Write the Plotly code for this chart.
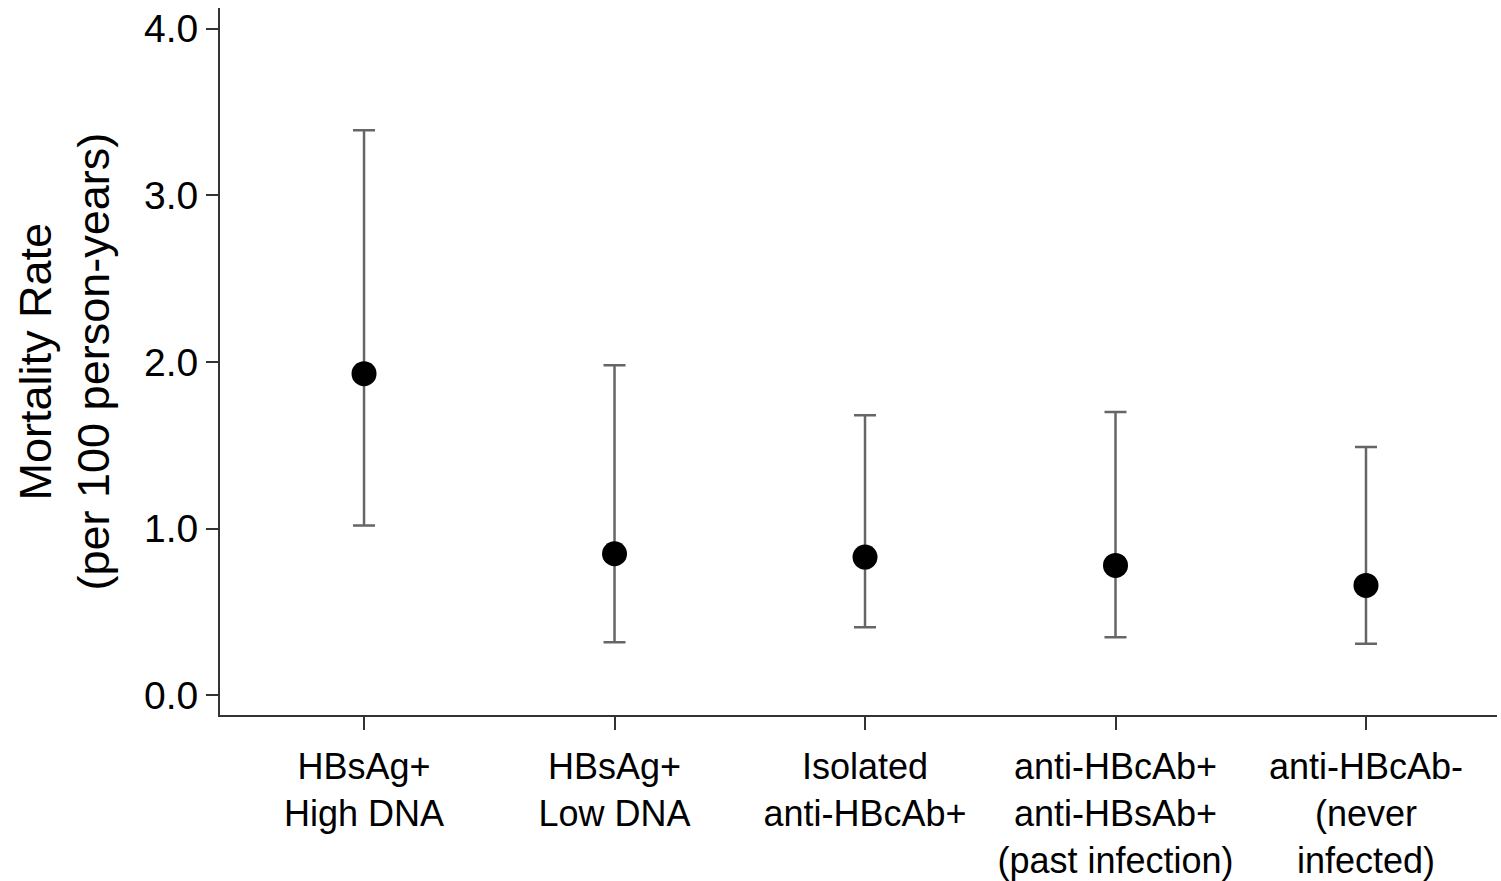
import plotly.graph_objects as go

categories = ["HBsAg+<br>High DNA", "HBsAg+<br>Low DNA", "Isolated<br>anti-HBcAb+",
              "anti-HBcAb+<br>anti-HBsAb+<br>(past infection)", "anti-HBcAb-<br>(never<br>infected)"]
rate = [1.93, 0.85, 0.83, 0.78, 0.66]
upper = [3.39, 1.98, 1.68, 1.70, 1.49]
lower = [1.02, 0.32, 0.41, 0.35, 0.31]
tick_vals = [0, 1, 2, 3, 4]
tick_text = ["0.0", "1.0", "2.0", "3.0", "4.0"]

xpos = list(range(len(categories)))
err_plus = [u - r for u, r in zip(upper, rate)]
err_minus = [r - l for r, l in zip(rate, lower)]

fig = go.Figure()
fig.add_trace(go.Scatter(
    x=xpos, y=rate, mode="markers",
    marker=dict(color="black", size=25),
    error_y=dict(type="data", symmetric=False, array=err_plus, arrayminus=err_minus,
                 color="#666666", thickness=2.5, width=11),
    showlegend=False,
))

font_family = "Liberation Sans, Arial, sans-serif"
fig.update_layout(
    width=1501, height=881,
    margin=dict(l=220, r=4, t=8, b=166),
    plot_bgcolor="white", paper_bgcolor="white",
    font=dict(family=font_family, color="black"),
    xaxis=dict(range=[-0.575, 4.523], tickvals=xpos, ticktext=categories,
               showgrid=False, zeroline=False, showline=True, linecolor="#333333", linewidth=2,
               ticks="outside", ticklen=13, tickwidth=2, tickcolor="#333333",
               ticklabelstandoff=6, automargin=False,
               tickfont=dict(size=36, family=font_family, color="black")),
    yaxis=dict(range=[-0.117, 4.123], tickvals=tick_vals, ticktext=tick_text,
               showgrid=False, zeroline=False, showline=True, linecolor="#333333", linewidth=2,
               ticks="outside", ticklen=12, tickwidth=2, tickcolor="#333333",
               automargin=False,
               tickfont=dict(size=39, family=font_family, color="black")),
    annotations=[dict(text="Mortality Rate<br>(per 100 person-years)", textangle=-90,
                      xref="paper", yref="paper", x=(64 - 220) / 1277, y=0.5,
                      xanchor="center", yanchor="middle", showarrow=False,
                      font=dict(size=45, family=font_family, color="black"))],
)

fig.write_html("out.html")
